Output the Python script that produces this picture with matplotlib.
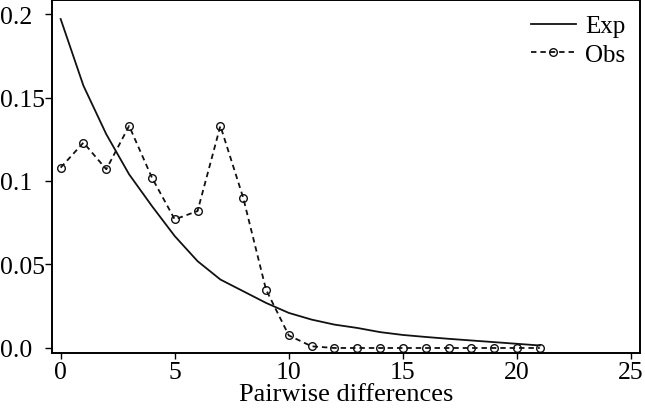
import matplotlib
matplotlib.use('Agg')
import matplotlib.pyplot as plt

# pairwise differences (mismatch distribution)
diffs = list(range(22))
exp_freq = [0.197, 0.157, 0.128, 0.104, 0.085, 0.067, 0.052, 0.041, 0.034, 0.027, 0.021,
            0.017, 0.014, 0.012, 0.0095, 0.0078, 0.0066, 0.0055, 0.0045, 0.0035, 0.0025, 0.0015]
obs_freq = [0.108, 0.123, 0.107, 0.133, 0.102, 0.077, 0.082, 0.133, 0.090, 0.035, 0.0075,
            0.001, 0.0, 0.0, 0.0, 0.0, 0.0, 0.0, 0.0, 0.0, 0.0, 0.0]
yticks = [0.0, 0.05, 0.1, 0.15, 0.2]
ytick_labels = ['0.0', '0.05', '0.1', '0.15', '0.2']
xticks = [0, 5, 10, 15, 20, 25]

plt.rcParams['font.family'] = ['Liberation Serif', 'DejaVu Serif']

fig = plt.figure(figsize=(6.45, 4.1), dpi=100)
ax = fig.add_axes([0.0806, 0.1366, 0.9116, 0.861])

ax.plot(diffs, exp_freq, color='#111111', lw=1.3, label='Exp')
ax.plot(diffs, obs_freq, color='#111111', lw=1.3, ls=(0, (3, 2.2)),
        marker='o', ms=5.5, mfc='none', mec='#111111', mew=1.0, label='Obs')

ax.set_xlim(-0.38, 25.39)
ax.set_ylim(-0.003, 0.2084)
ax.set_xticks(xticks)
ax.set_yticks(yticks)
ax.set_yticklabels(ytick_labels)
for lab in ax.get_yticklabels():
    lab.set_horizontalalignment('left')
ax.tick_params(axis='y', length=5, width=1, pad=32.4, labelsize=18.5)
ax.tick_params(axis='x', length=4, width=1, pad=2, labelsize=18.5)
for sp in ax.spines.values():
    sp.set_linewidth(1.4)

ax.set_xlabel('Pairwise differences', fontsize=19, labelpad=0)

ax.legend(loc='upper right', frameon=False, fontsize=18, handlelength=1.8,
          handletextpad=0.35, labelspacing=0.25, borderaxespad=0.2)

fig.savefig('out.png', dpi=100)
